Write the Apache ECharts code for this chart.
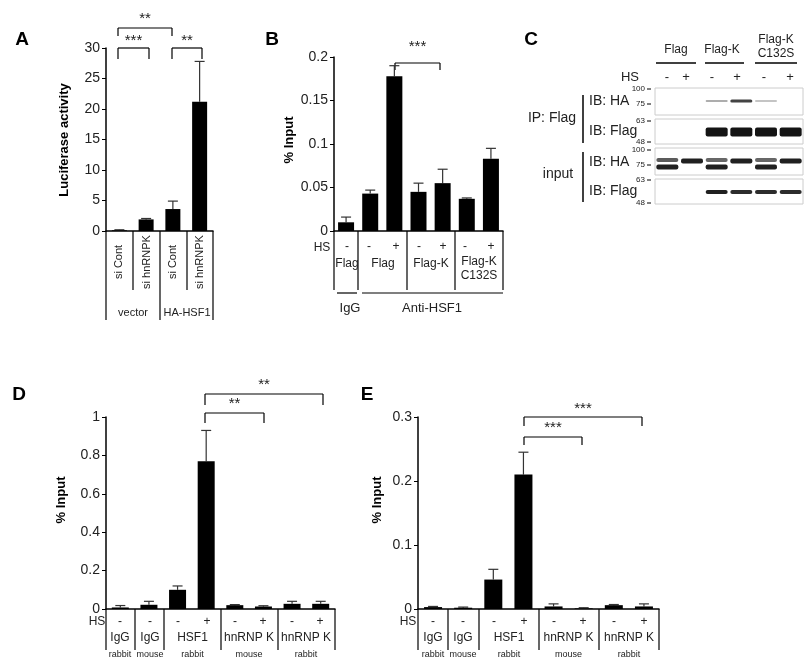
<!DOCTYPE html>
<html><head><meta charset="utf-8">
<script src="https://cdn.jsdelivr.net/npm/echarts@6/dist/echarts.min.js"></script>
<style>html,body{margin:0;padding:0;background:#fff}#c{width:811px;height:670px}</style>
</head><body><div id="c"></div>
<script>
// ---- data ----
const catsA = ['si Cont','si hnRNPK','si Cont','si hnRNPK'];
const valsA = [0.12, 1.9, 3.6, 21.2];
const errA  = [0.08, 0.15, 1.3, 6.6];
const catsB = ['Flag -','Flag -','Flag +','Flag-K -','Flag-K +','C132S -','C132S +'];
const valsB = [0.010, 0.043, 0.178, 0.045, 0.055, 0.037, 0.083];
const errB  = [0.006, 0.004, 0.012, 0.010, 0.016, 0.001, 0.012];
const catsDE = ['IgG rabbit','IgG mouse','HSF1 -','HSF1 +','K mouse -','K mouse +','K rabbit -','K rabbit +'];
const valsD = [0.008, 0.022, 0.100, 0.770, 0.020, 0.013, 0.027, 0.027];
const errD  = [0.010, 0.018, 0.020, 0.160, 0.003, 0.004, 0.013, 0.013];
const valsE = [0.003, 0.002, 0.046, 0.210, 0.004, 0.001, 0.006, 0.004];
const errE  = [0.001, 0.001, 0.016, 0.035, 0.004, 0.001, 0.001, 0.004];
const lanesC = ['1','2','3','4','5','6'];
// blot bands: [lane, y-centre (px units within blot), height, intensity 0..1]
const bandsC = [
 [2,13,2,0.35],[3,13,3,0.8],[4,13,2,0.25],
 [2,44,9,1],[3,44,9,1],[4,44,9,1],[5,44,9,1],
 [0,72,4,0.7],[0,79,5,0.95],[1,73,5,0.95],[2,72,4,0.65],[2,79,5,0.95],[3,73,5,0.95],[4,72,4,0.65],[4,79,5,0.95],[5,73,5,0.95],
 [2,104,4,0.95],[3,104,4,0.9],[4,104,4,0.9],[5,104,4,0.9]
];

const FONT = 'Liberation Sans, Arial, sans-serif';
const grids = [
 {left:106, top:48, width:107, height:183},
 {left:334, top:57, width:169, height:174},
 {left:106, top:417, width:229, height:192},
 {left:418, top:417, width:241, height:192},
 {left:655, top:88, width:148, height:116}
];
function xA(i,cats,show){return {type:'category',gridIndex:i,data:cats,axisLabel:{show:false},axisTick:{show:false},axisLine:{show:show!==false,lineStyle:{color:'#000',width:1.5}}};}
function yA(i,max,interval){return {type:'value',gridIndex:i,min:0,max:max,interval:interval,splitLine:{show:false},
 axisLine:{show:true,lineStyle:{color:'#000',width:1.5}},axisTick:{show:true,length:4,lineStyle:{color:'#000'}},
 axisLabel:{color:'#222',fontSize:14,fontFamily:FONT,margin:6}};}
function bars(i,vals,bw){return {type:'bar',xAxisIndex:i,yAxisIndex:i,data:vals,barWidth:bw,itemStyle:{color:'#000'},silent:true};}
function errs(i,vals,err){return {type:'custom',xAxisIndex:i,yAxisIndex:i,silent:true,z:1,
 data:vals.map((v,k)=>[k,v,v+err[k]]),
 renderItem:function(p,api){const a=api.coord([api.value(0),api.value(1)]);const b=api.coord([api.value(0),api.value(2)]);
  return {type:'group',children:[
   {type:'line',shape:{x1:a[0],y1:a[1],x2:b[0],y2:b[1]},style:{stroke:'#333',lineWidth:1.2}},
   {type:'line',shape:{x1:b[0]-5,y1:b[1],x2:b[0]+5,y2:b[1]},style:{stroke:'#333',lineWidth:1.2}}]};}};}

const G=[];
function T(x,y,t,o){G.push(Object.assign({type:'text',x:x,y:y,style:Object.assign({text:t,fill:'#222',font:'13px '+FONT,textAlign:'center',textVerticalAlign:'middle'},o||{})}));}
function L(x1,y1,x2,y2,w,c){G.push({type:'line',shape:{x1,y1,x2,y2},style:{stroke:c||'#000',lineWidth:w||1.2}});}
function Bk(x1,x2,y,d,stars,sy){L(x1,y,x2,y);L(x1,y,x1,y+d);L(x2,y,x2,y+d);T((x1+x2)/2,sy,stars,{font:'15px '+FONT});}
function Tr(x,y,t,o){G.push({type:'text',x:x,y:y,rotation:Math.PI/2,style:Object.assign({text:t,fill:'#222',font:'12px '+FONT,textAlign:'center',textVerticalAlign:'middle'},o||{})});}
function Ylab(x,y,t){G.push({type:'text',x:x,y:y,rotation:Math.PI/2,style:{text:t,fill:'#000',font:'bold 13px '+FONT,textAlign:'center',textVerticalAlign:'middle'}});}

// panel letters
T(22,40,'A',{font:'bold 19px '+FONT,fill:'#000'});T(272,40,'B',{font:'bold 19px '+FONT,fill:'#000'});
T(531,40,'C',{font:'bold 19px '+FONT,fill:'#000'});T(19,395,'D',{font:'bold 19px '+FONT,fill:'#000'});
T(367,395,'E',{font:'bold 19px '+FONT,fill:'#000'});
Ylab(64,140,'Luciferase activity');Ylab(289,140,'% Input');Ylab(61,500,'% Input');Ylab(377,500,'% Input');

// Panel A table
L(106,231,106,320);L(133,231,133,290);L(160,231,160,320);L(187,231,187,290);L(213,231,213,320);
[119,147,173,200].forEach((x,k)=>Tr(x,262,catsA[k],{font:'11px '+FONT}));
T(133,313,'vector',{font:'11px '+FONT});T(187,313,'HA-HSF1',{font:'11px '+FONT});
Bk(118,172,28,8,'**',19);Bk(118,149,48,11,'***',41);Bk(172,202,48,11,'**',41);

// Panel B table
T(322,248,'HS',{font:'12px '+FONT});
[347,369,396,419,443,465,491].forEach((x,k)=>T(x,247,['-','-','+','-','+','-','+'][k],{font:'12px '+FONT}));
[334,358,407,455,503].forEach(x=>L(x,231,x,290));
T(347,264,'Flag',{font:'12px '+FONT});T(383,264,'Flag',{font:'12px '+FONT});T(431,264,'Flag-K',{font:'12px '+FONT});
T(479,262,'Flag-K',{font:'12px '+FONT});T(479,276,'C132S',{font:'12px '+FONT});
L(337,293,357,293);L(362,293,503,293);T(350,308,'IgG',{font:'13px '+FONT});T(432,308,'Anti-HSF1',{font:'13px '+FONT});
Bk(395,440,63,7,'***',47);

// Panel D / E tables
function deTable(xs,lines,hsx){
 T(hsx,622,'HS',{font:'12px '+FONT});
 xs.forEach((x,k)=>T(x,622,['-','-','-','+','-','+','-','+'][k],{font:'12px '+FONT}));
 lines.forEach(x=>L(x,609,x,650));
 const mid=(a,b)=>(a+b)/2;const f={font:'12px '+FONT};
 T(xs[0],638,'IgG',f);T(xs[1],638,'IgG',f);
 T(mid(xs[2],xs[3]),638,'HSF1',f);T(mid(xs[4],xs[5]),638,'hnRNP K',f);T(mid(xs[6],xs[7]),638,'hnRNP K',f);
 const sf={font:'9px '+FONT};
 T(xs[0],655,'rabbit',sf);T(xs[1],655,'mouse',sf);T(mid(xs[2],xs[3]),655,'rabbit',sf);T(mid(xs[4],xs[5]),655,'mouse',sf);T(mid(xs[6],xs[7]),655,'rabbit',sf);
}
deTable([120,150,178,207,235,263,292,320],[106,135,164,221,278,335],97);
deTable([433,463,494,524,554,583,614,644],[418,448,479,539,599,659],408);
Bk(205,323,394,11,'**',385);Bk(205,264,413,10,'**',404);
Bk(524,642,417,9,'***',409);Bk(524,582,437,8,'***',428);

// Panel C labels
T(676,50,'Flag',{font:'12px '+FONT});T(722,50,'Flag-K',{font:'12px '+FONT});
T(776,40,'Flag-K',{font:'12px '+FONT});T(776,54,'C132S',{font:'12px '+FONT});
L(656,63,696,63,1.5);L(705,63,744,63,1.5);L(755,63,797,63,1.5);
T(630,77,'HS',{font:'13px '+FONT});
[667,686,712,737,764,790].forEach((x,k)=>T(x,77,k%2?'+':'-',{font:'13px '+FONT}));
[[655,88,148,27],[655,119,148,25],[655,148,148,27],[655,179,148,25]].forEach(r=>G.push({type:'rect',shape:{x:r[0],y:r[1],width:r[2],height:r[3]},style:{fill:'none',stroke:'#ccc',lineWidth:1}}));
L(583,95,583,143,1.5);L(583,152,583,202,1.5);
T(552,118,'IP: Flag',{font:'14px '+FONT});T(558,174,'input',{font:'14px '+FONT});
const lb={font:'14px '+FONT,textAlign:'left'};
T(589,101,'IB: HA',lb);T(589,131,'IB: Flag',lb);T(589,162,'IB: HA',lb);T(589,191,'IB: Flag',lb);
const mw={font:'8px '+FONT,textAlign:'right'};
[[89,'100'],[104,'75'],[121,'63'],[142,'48'],[150,'100'],[165,'75'],[180,'63'],[203,'48']].forEach(m=>{T(645,m[0],m[1],mw);L(647,m[0],651,m[0],1);});

const option={animation:false,backgroundColor:'#fff',
 grid:grids,
 xAxis:[xA(0,catsA),xA(1,catsB),xA(2,catsDE),xA(3,catsDE),
  {type:'category',gridIndex:4,data:lanesC,show:false}],
 yAxis:[yA(0,30,5),yA(1,0.2,0.05),yA(2,1,0.2),yA(3,0.3,0.1),
  {type:'value',gridIndex:4,min:0,max:116,inverse:true,show:false}],
 series:[bars(0,valsA,15),errs(0,valsA,errA),
  bars(1,valsB,16),errs(1,valsB,errB),
  bars(2,valsD,17),errs(2,valsD,errD),
  bars(3,valsE,18),errs(3,valsE,errE),
  {type:'custom',xAxisIndex:4,yAxisIndex:4,silent:true,data:bandsC,
   renderItem:function(p,api){const c=api.coord([api.value(0),api.value(1)]);const h=api.size([0,api.value(2)])[1];
    const g=Math.round(255*(1-api.value(3)*0.92));
    return {type:'rect',shape:{x:c[0]-11,y:c[1]-h/2,width:22,height:h,r:2},style:{fill:'rgb('+g+','+g+','+g+')'}};}}
 ],
 graphic:G};
echarts.init(document.getElementById('c')).setOption(option);
</script></body></html>
